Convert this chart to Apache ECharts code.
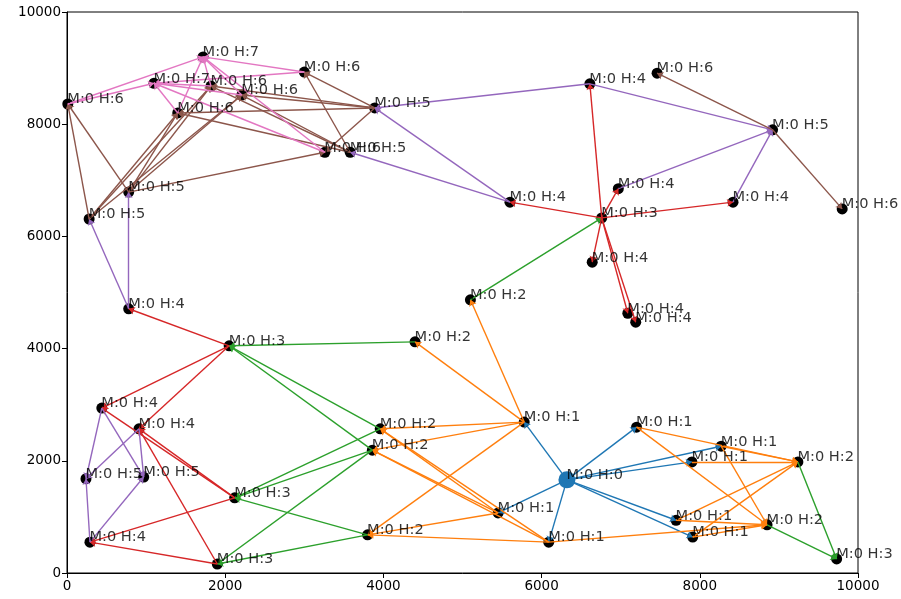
<!DOCTYPE html>
<html>
<head>
<meta charset="utf-8">
<script src="https://cdn.jsdelivr.net/npm/echarts@6/dist/echarts.min.js"></script>
<style>
  html, body { margin: 0; padding: 0; background: #fff; }
  #chart { width: 901px; height: 599px; }
</style>
</head>
<body>
<div id="chart"></div>
<script>
// Node positions (x, y) and hop count for every node of the mesh.
const nodeX = [6320,
  5780, 5450, 6090, 7200, 8270, 7900, 7700, 7910,
  9240, 8850, 5100, 4400, 3960, 3860, 3800,
  9730, 6760, 2050, 2120, 1900,
  780, 440, 910, 290, 6610, 5600, 6970, 8420, 6640, 7090, 7190,
  240, 970, 8920, 3890, 3580, 780, 280,
  7460, 9800, 10, 3000, 1820, 2210, 1400, 3260,
  1720, 1100];
const nodeY = [1660,
  2690, 1070, 550, 2600, 2260, 1980, 940, 640,
  1980, 860, 4870, 4120, 2570, 2190, 680,
  250, 6330, 4050, 1340, 160,
  4710, 2940, 2570, 550, 8720, 6610, 6850, 6610, 5540, 4630, 4470,
  1680, 1710, 7900, 8290, 7500, 6790, 6310,
  8910, 6490, 8360, 8930, 8680, 8520, 8200, 7500,
  9200, 8730];
const nodeHop = [0,
  1, 1, 1, 1, 1, 1, 1, 1,
  2, 2, 2, 2, 2, 2, 2,
  3, 3, 3, 3, 3,
  4, 4, 4, 4, 4, 4, 4, 4, 4, 4, 4,
  5, 5, 5, 5, 5, 5, 5,
  6, 6, 6, 6, 6, 6, 6, 6,
  7, 7];
const nodeMesh = nodeHop.map(() => 0);

// Directed links: parent (hop k) -> child (hop k+1).
const edgeFrom = [
  0, 0, 0, 0, 0, 0, 0, 0,
  1, 1, 1, 1, 1, 2, 2, 2, 3, 3, 3, 3, 4, 4, 5, 5, 6, 7, 7, 8, 8,
  11, 12, 13, 13, 14, 14, 14, 15, 15, 9, 10,
  17, 17, 17, 17, 17, 17, 17, 18, 18, 18, 19, 19, 19, 20, 20,
  21, 21, 22, 22, 23, 23, 24, 24, 25, 25, 26, 26, 27, 28,
  34, 34, 35, 35, 35, 35, 35, 36, 36, 36, 36, 37, 37, 37, 37, 37, 38, 38, 38, 38,
  41, 41, 42, 42, 43, 43, 44, 44, 45, 45, 46, 46];
const edgeTo = [
  1, 2, 3, 4, 5, 6, 7, 8,
  11, 12, 13, 14, 15, 13, 14, 15, 13, 14, 15, 10, 9, 10, 9, 10, 9, 9, 10, 9, 10,
  17, 18, 18, 19, 18, 19, 20, 19, 20, 16, 16,
  25, 26, 27, 28, 29, 30, 31, 21, 22, 23, 22, 23, 24, 24, 23,
  37, 38, 32, 33, 32, 33, 32, 33, 35, 34, 35, 36, 34, 34,
  39, 40, 42, 43, 44, 45, 46, 42, 43, 44, 45, 41, 43, 44, 45, 46, 41, 43, 44, 45,
  47, 48, 47, 48, 47, 48, 47, 48, 47, 48, 47, 48];

// Axis ticks
const axisTicks = [0, 2000, 4000, 6000, 8000, 10000];

// Edge colour by the hop of the parent node
const hopColors = ['#1f77b4', '#ff7f0e', '#2ca02c', '#d62728', '#9467bd', '#8c564b', '#e377c2'];

const FONT = 'DejaVu Sans';

const nodePoints = [];
const rootPoints = [];
const labelPoints = [];
nodeX.forEach((x, i) => {
  const p = [x, nodeY[i]];
  if (nodeHop[i] === 0) rootPoints.push(p); else nodePoints.push(p);
  labelPoints.push({ value: p, name: 'M:' + nodeMesh[i] + ' H:' + nodeHop[i] });
});

const edgeData = edgeFrom.map((s, k) => {
  const t = edgeTo[k];
  return {
    coords: [[nodeX[s], nodeY[s]], [nodeX[t], nodeY[t]]],
    lineStyle: { color: hopColors[nodeHop[s]] }
  };
});

const axisCommon = {
  type: 'value',
  min: axisTicks[0],
  max: axisTicks[axisTicks.length - 1],
  interval: axisTicks[1] - axisTicks[0],
  axisLine: { show: true, lineStyle: { color: '#000', width: 1 } },
  axisTick: { show: true, length: 5, lineStyle: { color: '#000', width: 1 } },
  axisLabel: {
    color: '#000', fontSize: 13.5, fontFamily: FONT, margin: 6,
    formatter: v => String(v)
  },
  splitLine: { show: false }
};

const chart = echarts.init(document.getElementById('chart'), null, { renderer: 'canvas' });
chart.setOption({
  animation: false,
  backgroundColor: '#fff',
  grid: {
    left: 67, right: 43, top: 12, bottom: 26,
    show: true, borderColor: '#000', borderWidth: 1, backgroundColor: 'transparent'
  },
  xAxis: axisCommon,
  yAxis: axisCommon,
  series: [
    {
      type: 'scatter',
      z: 1,
      symbol: 'circle',
      symbolSize: 11,
      itemStyle: { color: '#000', opacity: 1 },
      data: nodePoints
    },
    {
      type: 'scatter',
      z: 1,
      symbol: 'circle',
      symbolSize: 17,
      itemStyle: { color: '#1f77b4', opacity: 1 },
      data: rootPoints
    },
    {
      type: 'lines',
      coordinateSystem: 'cartesian2d',
      z: 2,
      symbol: ['none', 'arrow'],
      symbolSize: 6,
      lineStyle: { width: 1.4, opacity: 1 },
      data: edgeData
    },
    {
      type: 'scatter',
      z: 3,
      symbol: 'circle',
      symbolSize: 1,
      itemStyle: { color: 'rgba(0,0,0,0)' },
      silent: true,
      label: {
        show: true,
        position: [0, -4],
        align: 'left',
        verticalAlign: 'middle',
        color: '#000',
        fontSize: 14.6,
        fontFamily: FONT,
        formatter: p => p.name
      },
      data: labelPoints
    }
  ]
});
</script>
</body>
</html>
